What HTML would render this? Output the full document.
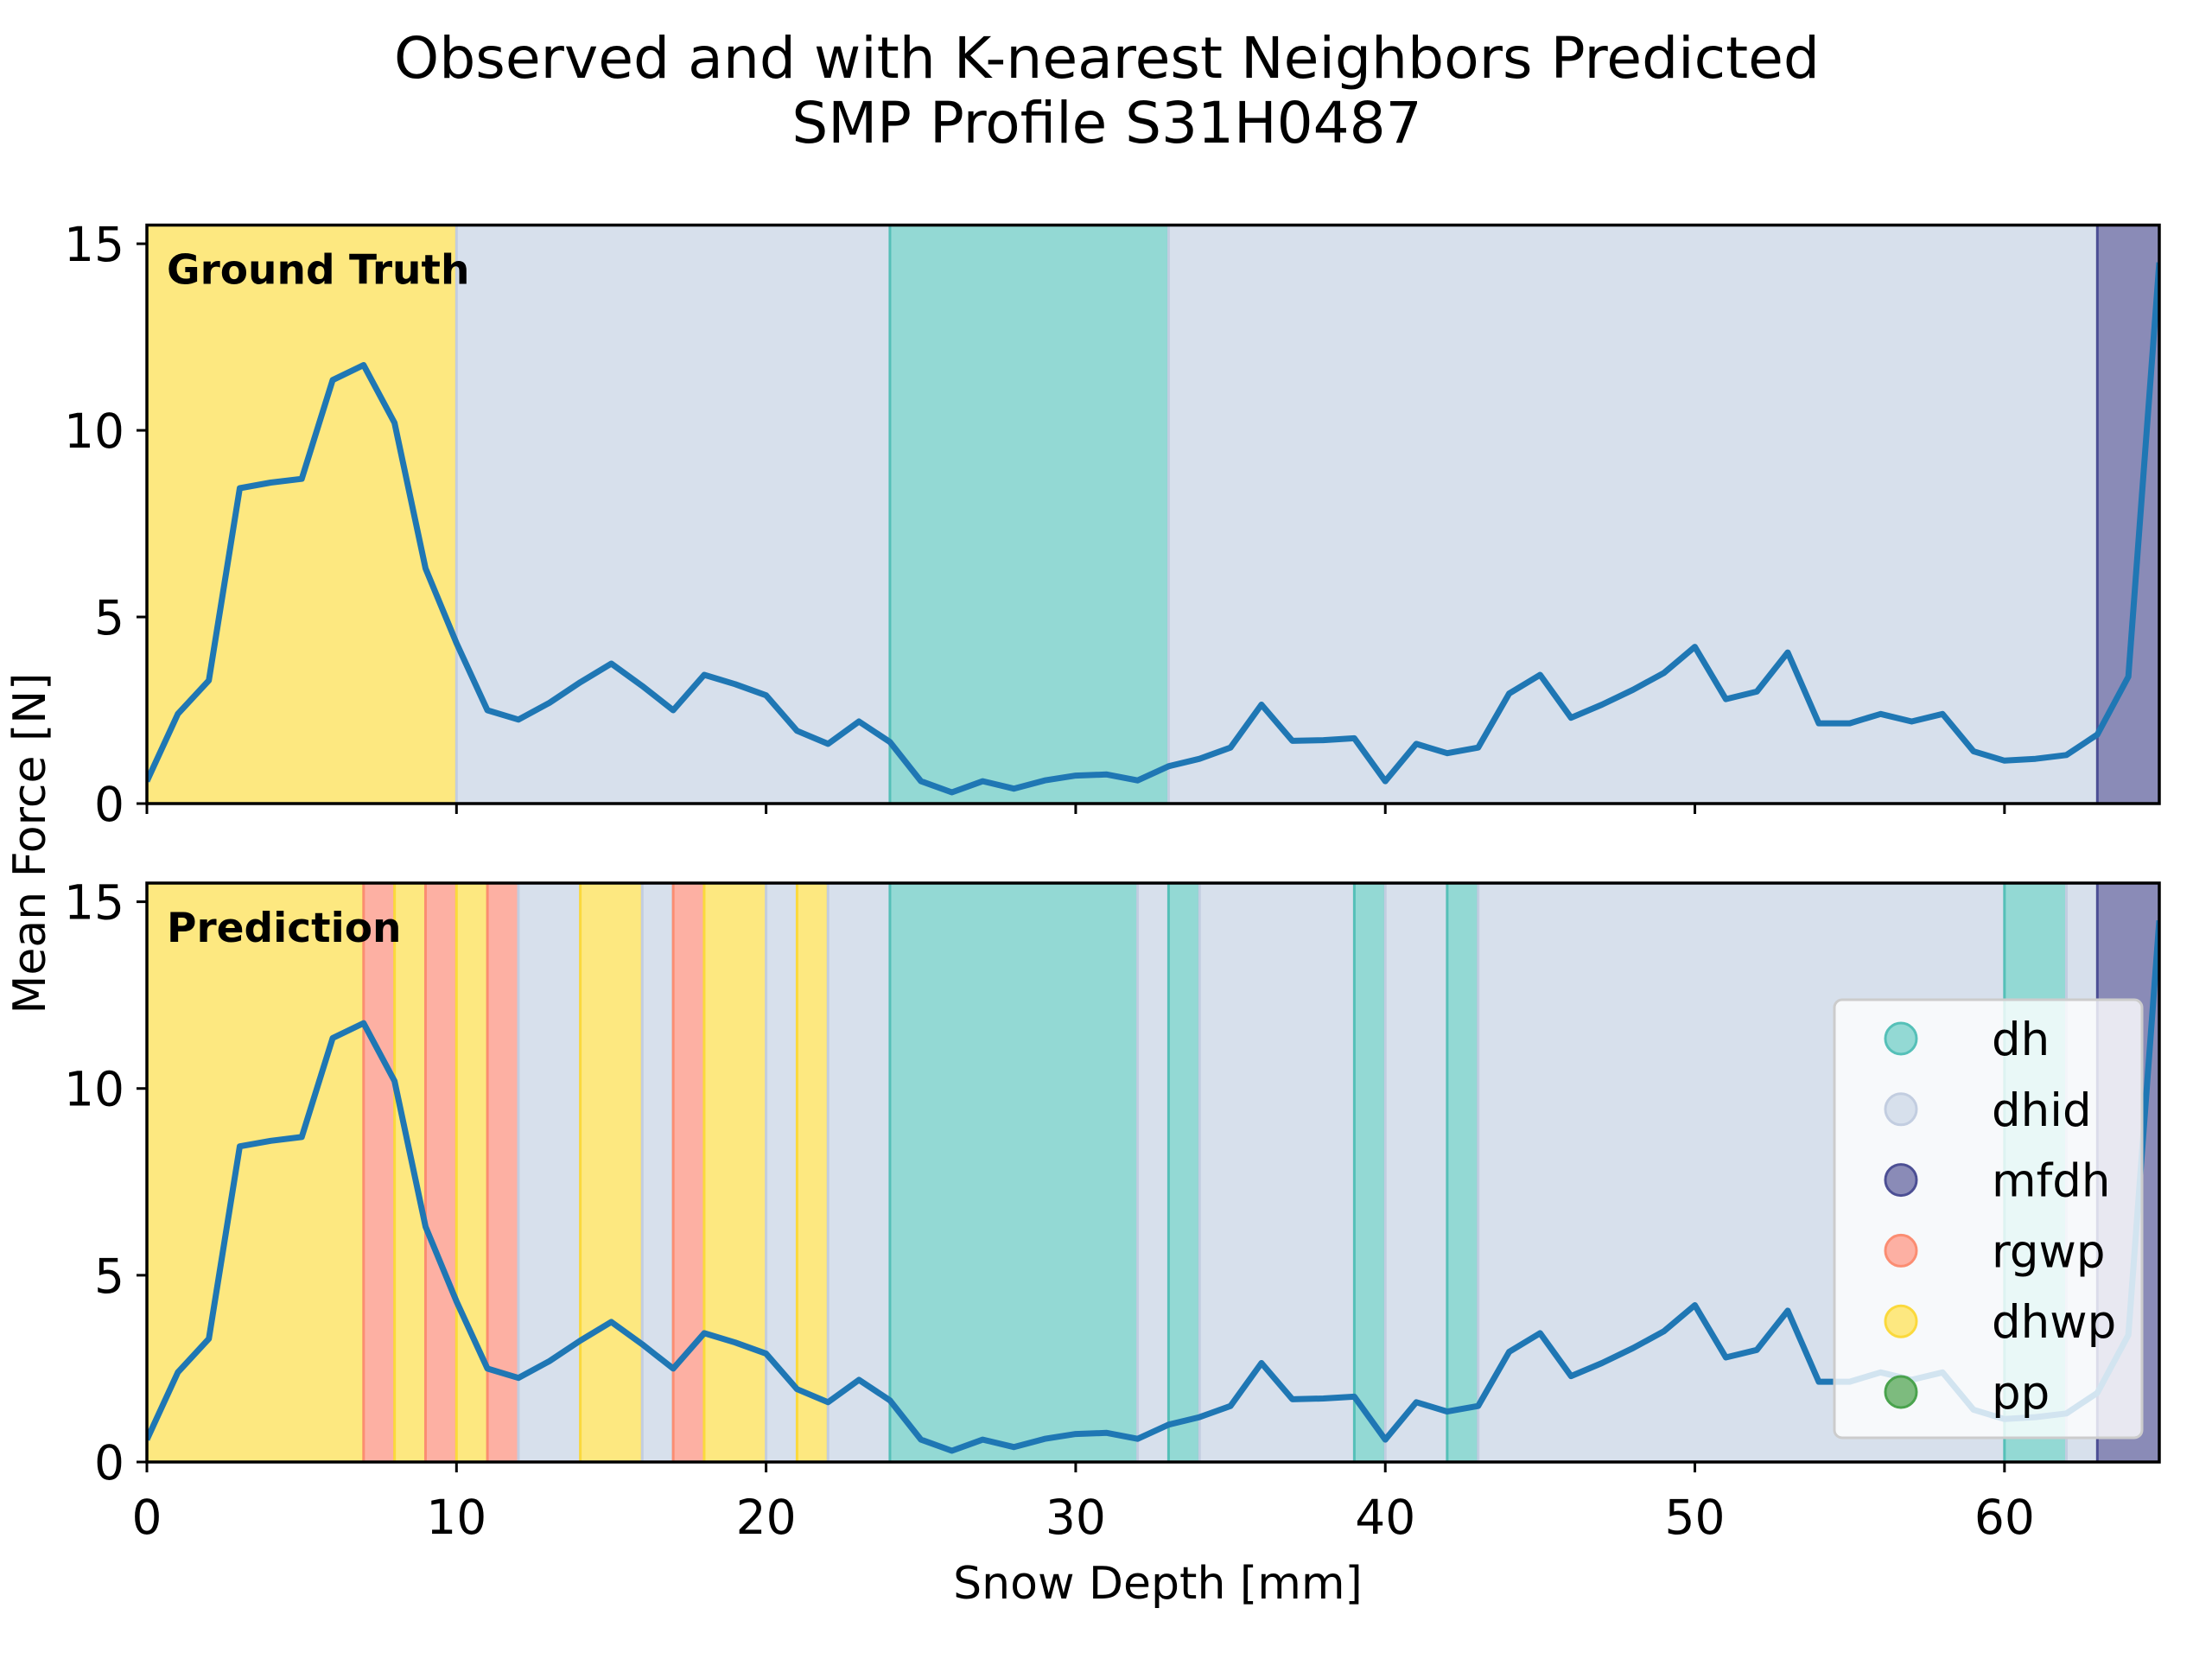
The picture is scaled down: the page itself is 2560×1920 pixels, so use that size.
<!DOCTYPE html>
<html><head><meta charset="utf-8"><style>
html,body{margin:0;padding:0;background:#fff;}
svg{display:block;font-family:"DejaVu Sans","Liberation Sans",sans-serif;}
</style></head><body>
<svg id="fig" width="2560" height="1920" viewBox="0 0 2560 1920" xmlns="http://www.w3.org/2000/svg">
<rect width="2560" height="1920" fill="#fff"/>
<text x="1281" y="90" font-size="66" text-anchor="middle" textLength="1650" lengthAdjust="spacingAndGlyphs">Observed and with K-nearest Neighbors Predicted</text>
<text x="1281" y="165" font-size="66" text-anchor="middle">SMP Profile S31H0487</text>
<text x="0" y="0" font-size="52" text-anchor="middle" transform="translate(52,976) rotate(-90)">Mean Force [N]</text>
<text x="1340" y="1850" font-size="52" text-anchor="middle">Snow Depth [mm]</text>
<g id="top"></g>
<g id="bot"></g>
</svg>
<script>
const depth = [0,1,2,3,4,5,6,7,8,9,10,11,12,13,14,15,16,17,18,19,20,21,22,23,24,25,26,27,28,29,30,31,32,33,34,35,36,37,38,39,40,41,42,43,44,45,46,47,48,49,50,51,52,53,54,55,56,57,58,59,60,61,62,63,64,65];
const force = [0.6,2.4,3.3,8.45,8.6,8.7,11.35,11.75,10.2,6.3,4.3,2.5,2.25,2.7,3.25,3.75,3.15,2.5,3.45,3.2,2.9,1.95,1.6,2.2,1.65,0.6,0.3,0.6,0.4,0.62,0.75,0.78,0.62,1.0,1.2,1.5,2.65,1.68,1.7,1.75,0.6,1.6,1.35,1.5,2.95,3.45,2.3,2.65,3.05,3.5,4.2,2.8,3.0,4.05,2.15,2.15,2.4,2.2,2.4,1.4,1.15,1.2,1.3,1.85,3.4,14.5];
const truthStart = [0,10,24,33,63];
const truthEnd = [10,24,33,63,65];
const truthLabel = ["dhwp","dhid","dh","dhid","mfdh"];
const predStart = [0,7,8,9,10,11,12,14,16,17,18,20,21,22,24,32,33,34,39,40,42,43,60,62,63];
const predEnd = [7,8,9,10,11,12,14,16,17,18,20,21,22,24,32,33,34,39,40,42,43,60,62,63,65];
const predLabel = ["dhwp","rgwp","dhwp","rgwp","dhwp","rgwp","dhid","dhwp","dhid","rgwp","dhwp","dhid","dhwp","dhid","dh","dhid","dh","dhid","dh","dhid","dh","dhid","dh","dhid","mfdh"];
const xTicks = [0,10,20,30,40,50,60];
const yTicks = [0,5,10,15];
const legendLabels = ["dh","dhid","mfdh","rgwp","dhwp","pp"];

const fillC = {dh:"#93d9d4",dhid:"#d7e0ec",mfdh:"#8a8bb7",rgwp:"#fdb0a3",dhwp:"#fde880",pp:"#7dbb7e"};
const edgeC = {dh:"#55c0b8",dhid:"#c2cde0",mfdh:"#4c4f94",rgwp:"#fb8d72",dhwp:"#fbd93c",pp:"#4aa34d"};
const NS = "http://www.w3.org/2000/svg";
const L = 170, R = 2499, XMAX = 65, YMAX = 15.5;
function xs(v){ return L + (R - L) * v / XMAX; }
function mk(tag, attrs, parent){ const e = document.createElementNS(NS, tag); for (const k in attrs) e.setAttribute(k, attrs[k]); parent.appendChild(e); return e; }

function panel(g, top, bottom, starts, ends, labels, title, showXLabels, pname){
  const ys = v => bottom - (bottom - top) * v / YMAX;
  for (let i = 0; i < starts.length; i++){
    const r = mk("rect", {x: xs(starts[i]), y: top, width: xs(ends[i]) - xs(starts[i]), height: bottom - top, fill: fillC[labels[i]], stroke: edgeC[labels[i]], "stroke-width": 3}, g);
    
    
  }
  let d = "";
  for (let i = 0; i < depth.length; i++) d += (i ? "L" : "M") + xs(depth[i]).toFixed(1) + "," + ys(force[i]).toFixed(1);
  const cp = mk("clipPath", {id: "clip-" + pname}, g);
  mk("rect", {x: L, y: top, width: R - L, height: bottom - top}, cp);
  const p = mk("path", {d: d, fill: "none", stroke: "#1f77b4", "stroke-width": 7, "stroke-linejoin": "round", "clip-path": "url(#clip-" + pname + ")"}, g);
  
  
  const t = mk("text", {x: 193, y: top + 68, "font-size": 47, "font-weight": "bold"}, g);
  t.textContent = title;
  
  
  for (const v of yTicks){
    mk("line", {x1: L - 12, x2: L, y1: ys(v), y2: ys(v), stroke: "#000", "stroke-width": 3}, g);
    const tl = mk("text", {x: L - 26, y: ys(v) + 20, "font-size": 55, "text-anchor": "end"}, g);
    tl.textContent = v;
    
    
  }
  for (const v of xTicks){
    mk("line", {x1: xs(v), x2: xs(v), y1: bottom, y2: bottom + 12, stroke: "#000", "stroke-width": 3}, g);
    if (showXLabels){
      const tl = mk("text", {x: xs(v), y: bottom + 83, "font-size": 55, "text-anchor": "middle"}, g);
      tl.textContent = v;
      
      
    }
  }
  const fr = mk("rect", {x: L, y: top, width: R - L, height: bottom - top, fill: "none", stroke: "#000", "stroke-width": 3.5}, g);
  
  
}
panel(document.getElementById("top"), 260.5, 930, truthStart, truthEnd, truthLabel, "Ground Truth", false, "truth");
panel(document.getElementById("bot"), 1022, 1692, predStart, predEnd, predLabel, "Prediction", true, "pred");

const bot = document.getElementById("bot");
const lg = mk("g", {}, bot);


mk("rect", {x: 2123, y: 1157, width: 356, height: 507, rx: 9, fill: "rgba(255,255,255,0.8)", stroke: "#cccccc", "stroke-width": 3}, lg);
for (let i = 0; i < legendLabels.length; i++){
  const cy = 1202 + 81.8 * i;
  const c = mk("circle", {cx: 2200, cy: cy, r: 18, fill: fillC[legendLabels[i]], stroke: edgeC[legendLabels[i]], "stroke-width": 3}, lg);
  
  
  const t = mk("text", {x: 2305, y: cy + 19, "font-size": 53}, lg);
  t.textContent = legendLabels[i];
  
  
}
</script>
</body></html>
